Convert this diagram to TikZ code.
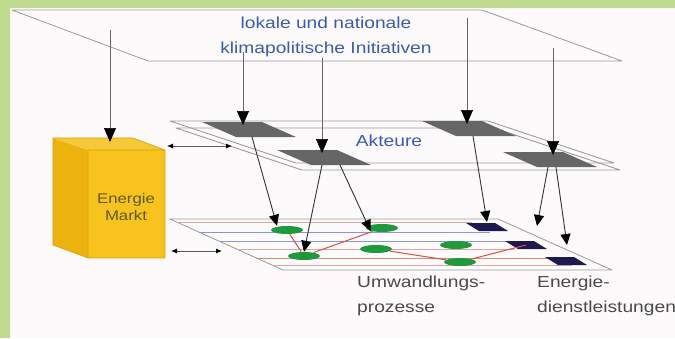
\documentclass[tikz,border=0pt]{standalone}
\usepackage{fontspec}
\newfontfamily\schrift{Liberation Sans}[FakeStretch=1.2]
\usetikzlibrary{arrows.meta,shapes.geometric}
\definecolor{rahmen}{HTML}{BFDC8E}
\definecolor{hintergrund}{HTML}{FDFAFC}
\definecolor{ebenegrau}{HTML}{9A9A9A}
\definecolor{akteurgrau}{HTML}{666666}
\definecolor{textblau}{HTML}{3A5BB0}
\definecolor{marktgelb}{HTML}{F7C31C}
\definecolor{deckelgelb}{HTML}{F4C836}
\definecolor{seitengelb}{HTML}{ECB20E}
\definecolor{kantengelb}{HTML}{D8A200}
\definecolor{oliv}{HTML}{5C5A1A}
\definecolor{prozessgruen}{HTML}{1E9A3C}
\definecolor{dienstblau}{HTML}{1C1A50}
\definecolor{rosa}{HTML}{D8A8A0}
\definecolor{hellblau}{HTML}{8C96D0}
\definecolor{rot}{HTML}{D85040}
\definecolor{braun}{HTML}{C89070}
\definecolor{textgrau}{HTML}{4A4A4A}
\begin{document}
\begin{tikzpicture}[x=1pt,y=-1pt, line join=round,
  ebene/.style={draw=ebenegrau, line width=0.8pt},
  oben/.style={draw=black!60, line width=0.6pt, -{Triangle[length=14pt,width=12pt,color=black]}},
  unten/.style={draw=black!80, line width=0.9pt, -{Triangle[length=11pt,width=10pt,color=black]}},
  tausch/.style={draw=black!65, line width=0.8pt, {Latex[length=6pt,width=5pt,color=black]}-{Latex[length=6pt,width=5pt,color=black]}},
  prozess/.style={ellipse, fill=prozessgruen, minimum width=32pt, minimum height=8pt, inner sep=0pt},
  netz/.style={line width=1pt},
  blau/.style={text=textblau, font=\schrift\fontsize{16}{25}\selectfont, align=center},
  beschriftung/.style={text=textgrau, font=\schrift\fontsize{16}{25}\selectfont, align=left, inner sep=0pt, anchor=north west}]
\useasboundingbox (0,0) rectangle (675,338);
\fill[hintergrund] (0,0) rectangle (675,338);
\fill[rahmen] (0,0) rectangle (675,8) (0,0) rectangle (10,338);
% Initiativen
\draw[ebene] (12,10) -- (482,10) -- (622,61) -- (148,61) -- cycle;
\node[blau] (initiativen) at (326,37) {lokale und nationale\\klimapolitische Initiativen};
\coordinate (t1) at (110,30);
\coordinate (t2) at (243,52);
\coordinate (t3) at (322,58);
\coordinate (t4) at (467,18);
\coordinate (t5) at (553,48);
% Netz
\draw[ebene] (170,219) -- (498,219) -- (612,270) -- (283,270) -- cycle;
\draw[netz,rosa] (177,222) -- (472,222);
\draw[netz,hellblau] (199,232) -- (490,232);
\draw[netz,hellblau] (219,241) -- (508,241);
\draw[netz,rosa] (236,249) -- (515,249);
\draw[netz,braun] (256,258) -- (548,258);
\draw[netz,rosa] (272,265) -- (572,265);
\foreach \name/\x/\y in {d1/487/227, d2/526/245, d3/566/261} {
  \fill[dienstblau] (\x-21,\y-4) -- (\x+8,\y-4) -- (\x+21,\y+4) -- (\x-8,\y+4) -- cycle;
  \coordinate (\name) at (\x,\y);
}
\node[prozess] (u1) at (287,230) {};
\node[prozess] (u2) at (304,256) {};
\node[prozess] (u3) at (382,228) {};
\node[prozess] (u4) at (376,249) {};
\node[prozess] (u5) at (456,245) {};
\node[prozess] (u6) at (460,262) {};
\draw[netz,rot] (u1) -- (u2) (u2) -- (u3) (u4) -- (u6) (u6) -- (d2);
\coordinate (e1) at (537,226);
\coordinate (e2) at (567,245);
% Akteure
\draw[ebene] (170,121) -- (488,121) -- (614,163) -- (296,163) -- cycle;
\draw[ebene] (176,128) -- (494,128) -- (620,170) -- (302,170) -- cycle;
\foreach \name/\x/\y in {a1/249/130, a2/324/158, a3/469/129, a4/550/160} {
  \fill[akteurgrau] (\x-47,\y-8) -- (\x+13,\y-8) -- (\x+47,\y+7) -- (\x-13,\y+7) -- cycle;
  \coordinate (\name) at (\x,\y);
  \coordinate (\name o) at (\x,\y-5);
}
\node[blau] (akteure) at (389,141) {Akteure};
% Markt
\fill[seitengelb] (53,138) -- (88,150) -- (88,258) -- (53,245) -- cycle;
\fill[deckelgelb] (53,138) -- (133,138) -- (165,150) -- (88,150) -- cycle;
\fill[marktgelb] (88,150) rectangle (165,258);
\draw[kantengelb, line width=0.6pt] (53,138) -- (133,138) -- (165,150) -- (165,258) -- (88,258) -- (53,245) -- cycle (88,150) -- (165,150) (88,150) -- (88,258);
\node[text=oliv, font=\schrift\fontsize{14}{17}\selectfont, align=center] (markt) at (126,207) {Energie\\Markt};
\coordinate (m1) at (110,142);
\coordinate (mo) at (167,146);
\coordinate (ao) at (232,146);
\coordinate (mu) at (171,251);
\coordinate (nu) at (222,251);
\draw[tausch] (mo) -- (ao);
\draw[tausch] (mu) -- (nu);
% Pfeile
\draw[oben] (t1) -- (m1);
\draw[oben] (t2) -- (t2 |- a1o);
\draw[oben] (t3) -- (t3 |- a2o);
\draw[oben] (t4) -- (t4 |- a3o);
\draw[oben] (t5) -- (t5 |- a4o);
\draw[unten] ([xshift=3pt,yshift=-7pt]a1) -- ([xshift=-10pt]u1.north);
\draw[unten] ([xshift=-2pt,yshift=-7pt]a2) -- (u2.north);
\draw[unten] ([xshift=16pt,yshift=-7pt]a2) -- (u3.south west);
\draw[unten] ([xshift=4pt,yshift=-7pt]a3) -- ([yshift=5pt]d1);
\draw[unten] ([xshift=-2pt,yshift=-7pt]a4) -- (e1);
\draw[unten] ([xshift=6pt,yshift=-7pt]a4) -- (e2);
% Beschriftung
\node[beschriftung] (umwandlung) at (357,276) {Umwandlungs-\\prozesse};
\node[beschriftung] (dienstleistung) at (537,276) {Energie-\\dienstleistungen};
\end{tikzpicture}
\end{document}
